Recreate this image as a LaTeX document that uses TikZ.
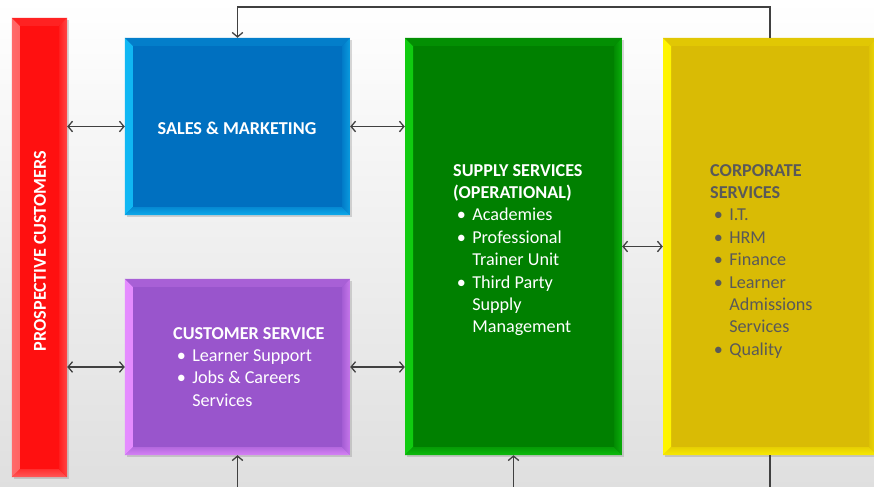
\documentclass[tikz,border=0pt]{standalone}
\usepackage{fontspec}
\setmainfont{Carlito}
\usetikzlibrary{arrows.meta,shadows}

\definecolor{prospred}{HTML}{FF1010}
\definecolor{prosplight}{HTML}{FF6A6A}
\definecolor{salesblue}{HTML}{0070C0}
\definecolor{saleslight}{HTML}{10B8F4}
\definecolor{custpurple}{HTML}{9955CC}
\definecolor{custlight}{HTML}{E58CFF}
\definecolor{supplygreen}{HTML}{008000}
\definecolor{supplylight}{HTML}{10CC10}
\definecolor{corpyellow}{HTML}{D9BB05}
\definecolor{corplight}{HTML}{FFF500}
\definecolor{corptext}{HTML}{595959}
\definecolor{linkgray}{HTML}{404040}

\newcommand{\bl}{\makebox[1.05em][l]{\hspace{0.2em}\textbullet}}
\newcommand{\ind}{\hspace*{1.05em}}

\begin{document}
\begin{tikzpicture}[x=0.03cm,y=-0.03cm,
	panel/.style 2 args={draw=none, fill=#1, inner sep=0pt,
		drop shadow={shadow xshift=2pt, shadow yshift=-2pt, opacity=0.3},
		path picture={
			% left and bottom edges lit, top and right a little lighter
			\shade[left color=#2, right color=#2!40!#1] (path picture bounding box.south west) -- (path picture bounding box.north west)
				-- ([shift={(0.24cm,-0.24cm)}]path picture bounding box.north west)
				-- ([shift={(0.24cm,0.24cm)}]path picture bounding box.south west) -- cycle;
			\shade[bottom color=#2!80!#1, top color=#2!35!#1] (path picture bounding box.south west) -- (path picture bounding box.south east)
				-- ([shift={(-0.24cm,0.24cm)}]path picture bounding box.south east)
				-- ([shift={(0.24cm,0.24cm)}]path picture bounding box.south west) -- cycle;
			\fill[#2!20!#1] (path picture bounding box.north west) -- (path picture bounding box.north east)
				-- ([shift={(-0.24cm,-0.24cm)}]path picture bounding box.north east)
				-- ([shift={(0.24cm,-0.24cm)}]path picture bounding box.north west) -- cycle;
			\shade[right color=#2!60!#1, left color=#2!15!#1] (path picture bounding box.north east) -- (path picture bounding box.south east)
				-- ([shift={(-0.24cm,0.24cm)}]path picture bounding box.south east)
				-- ([shift={(-0.24cm,-0.24cm)}]path picture bounding box.north east) -- cycle;
		}},
	title/.style={text=white, font=\fontsize{15.5}{19}\selectfont\bfseries, inner sep=0pt},
	bodytext/.style={text=white, font=\fontsize{15.5}{19.1}\selectfont, align=left, inner sep=0pt, anchor=north west},
	link/.style={draw=linkgray, line width=1.1pt},
	tip/.tip={Straight Barb[length=3.8pt,width=9pt]}
]
\clip (0,0) rectangle (874,487);
\shade[top color=white, bottom color=gray!25] (0,0) rectangle (874,487);

% boxes
\node[panel={prospred}{prosplight}, minimum width=1.65cm, minimum height=13.77cm] (prosp) at (39.5,247.5) {};
\node[panel={salesblue}{saleslight}, minimum width=6.75cm, minimum height=5.31cm] (sales) at (237.5,126.5) {};
\node[panel={custpurple}{custlight}, minimum width=6.75cm, minimum height=5.28cm] (cust) at (237.5,367) {};
\node[panel={supplygreen}{supplylight}, minimum width=6.51cm, minimum height=12.51cm] (supply) at (513.5,246.5) {};
\node[panel={corpyellow}{corplight}, minimum width=6.42cm, minimum height=12.51cm] (corp) at (770,246.5) {};

% texts
\node[title, rotate=90] (prosptxt) at (40,251) {PROSPECTIVE CUSTOMERS};
\node[title] (salestxt) at (237,128) {SALES \& MARKETING};
\node[bodytext] (custtxt) at (173,327) {\textbf{CUSTOMER SERVICE}\\
	\bl Learner Support\\
	\bl Jobs \& Careers\\
	\ind Services};
\node[bodytext] (supplytxt) at (453,164) {\textbf{SUPPLY SERVICES}\\
	\textbf{(OPERATIONAL)}\\
	\bl Academies\\
	\bl Professional\\
	\ind Trainer Unit\\
	\bl Third Party\\
	\ind Supply\\
	\ind Management};
\node[bodytext, text=corptext] (corptxt) at (710,164) {\textbf{CORPORATE}\\
	\textbf{SERVICES}\\
	\bl I.T.\\
	\bl HRM\\
	\bl Finance\\
	\bl Learner\\
	\ind Admissions\\
	\ind Services\\
	\bl Quality};

% connectors
\coordinate (topline) at (0,7);
\coordinate (bottomline) at (0,487);
\draw[link, tip-tip] (prosp.east |- sales.west) -- (sales.west);
\draw[link, tip-tip] (sales.east) -- (supply.west |- sales.east);
\draw[link, tip-tip] (prosp.east |- cust.west) -- (cust.west);
\draw[link, tip-tip] (cust.east) -- (supply.west |- cust.east);
\draw[link, tip-tip] (supply.east) -- (corp.west);
\draw[link, -tip] (corp.north) -- (corp.north |- topline) -| (sales.north);
\draw[link, -tip] (cust.south |- bottomline) -- (cust.south);
\draw[link, -tip] (supply.south |- bottomline) -- (supply.south);
\draw[link] (corp.south) -- (corp.south |- bottomline);
\end{tikzpicture}
\end{document}
